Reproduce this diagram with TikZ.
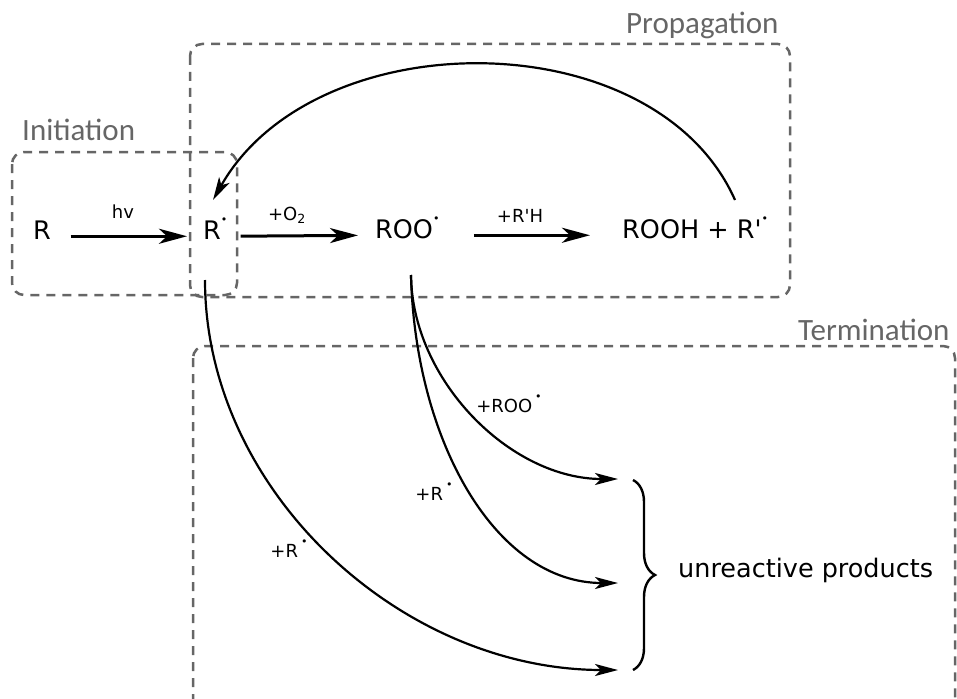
\documentclass[tikz,border=0pt]{standalone}
\usepackage{fontspec}
\setmainfont{DejaVu Sans}
\newfontfamily\lblfont{Carlito}
\usetikzlibrary{arrows.meta,decorations.pathreplacing}
\definecolor{boxgray}{HTML}{666666}
\newcommand\rad{\raisebox{0.62em}{\fontsize{11}{11}\selectfont\textbullet}}
\newcommand\apos{\textquotesingle}
\begin{document}
\begin{tikzpicture}[x=1pt,y=-1pt,
  chem/.style={font=\fontsize{25.5}{30}\selectfont, inner sep=0pt, anchor=base west},
  small/.style={font=\fontsize{18}{22}\selectfont, inner sep=0pt, anchor=base},
  boxlab/.style={font=\lblfont\fontsize{31}{36}\selectfont, text=boxgray, inner sep=0pt, anchor=base west},
  region/.style={draw=boxgray, dash pattern=on 9pt off 7pt, line width=2.5pt, rounded corners=12pt},
  arr/.style={line width=3pt, -{Stealth[length=28pt,width=15pt,inset=8pt]}},
  carr/.style={line width=2.2pt, -{Stealth[length=23pt,width=12pt,inset=6pt]}}]
\useasboundingbox (0,0) rectangle (957,698);

% regions
\draw[region] (12,152) rectangle (237,295);
\draw[region] (190,44) rectangle (790,297);
\draw[region] (193,346) rectangle (955,712);
\node[boxlab] (linit) at (22,140) {Initiation};
\node[boxlab] (lprop) at (626,34) {Propagation};
\node[boxlab] (lterm) at (798,340) {Termination};

% species
\node[chem] (R) at (33,239) {R};
\node[chem] (Rr) at (203,239) {R\rad};
\node[chem] (ROO) at (375,238) {ROO\rad};
\node[chem] (ROOH) at (622,238) {ROOH + R\apos\rad};
\node[chem] (up) at (678,577) {unreactive products};

% step labels
\node[small] (lhv) at (123,218) {hv};
\node[small] (lo2) at (287,220) {+O\textsubscript{2}};
\node[small] (lrh) at (520,222) {+R\apos H};
\node[small] (lroo) at (509,412) {+ROO\,\rad};
\node[small] (lr1) at (434,500) {+R\,\rad};
\node[small] (lr2) at (289,557) {+R\,\rad};

% horizontal arrows
\draw[arr, shorten <=19.6pt, shorten >=16pt] (R.mid east) -- (Rr.mid west);
\draw[arr, shorten <=13pt, shorten >=17pt] (Rr.mid east) -- (ROO.mid west);
\draw[arr, shorten <=34pt, shorten >=32pt] (ROO.mid east) -- (ROOH.mid west);

% recycling arc
\draw[carr] ([shift={(113,-38)}]ROOH.base west) .. controls (655,20) and (315,20) .. ([shift={(10,-39)}]Rr.base west);

% termination
\coordinate (t1) at (618,479);
\coordinate (t2) at (618,583);
\coordinate (t3) at (618,670);
\coordinate (bt) at (633,480);
\coordinate (bb) at (633,670);
\draw[carr] ([shift={(36,37)}]ROO.base west) .. controls (412,380) and (510,479) .. (t1);
\draw[carr] ([shift={(36,37)}]ROO.base west) .. controls (415,440) and (495,583) .. (t2);
\draw[carr] ([shift={(2,41)}]Rr.base west) .. controls (205,490) and (400,670) .. (t3);
\draw[line width=2.4pt, decorate, decoration={brace, amplitude=22pt}] (bt) -- (bb);
\end{tikzpicture}
\end{document}
